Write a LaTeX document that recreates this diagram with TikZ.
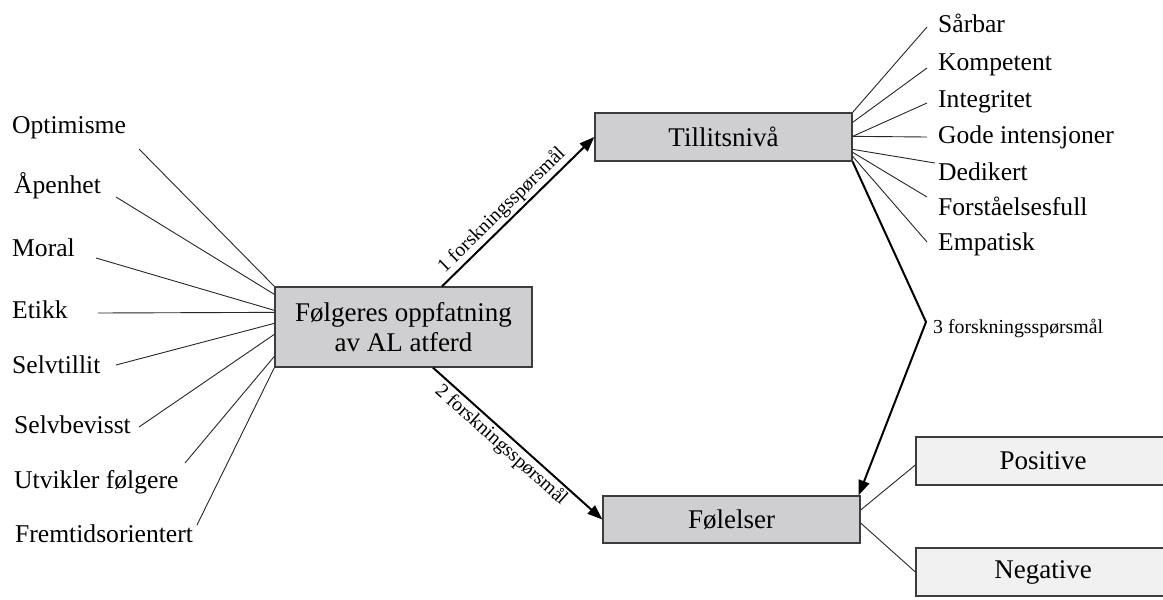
\documentclass[tikz,border=0pt]{standalone}
\usepackage{fontspec}
\setmainfont{Liberation Serif}
\usetikzlibrary{arrows.meta,calc}
\definecolor{boxgray}{RGB}{207,206,208}
\definecolor{boxlight}{RGB}{241,241,241}
\definecolor{edgegray}{RGB}{60,60,60}
\begin{document}
\begin{tikzpicture}[x=1pt,y=-1pt,
  lbl/.style={anchor=base west,inner sep=0pt,font=\fontsize{25.6}{29}\selectfont},
  bigbox/.style={draw=edgegray,line width=1.3pt,fill=boxgray,inner sep=0pt,minimum width=257pt,font=\fontsize{27}{30}\selectfont,align=center},
  outbox/.style={draw=edgegray,line width=1.3pt,fill=boxlight,inner sep=0pt,minimum width=254pt,minimum height=48pt,font=\fontsize{27}{30}\selectfont},
  thin/.style={draw=black!85,line width=0.9pt},
  heavy/.style={draw=black,line width=2pt},
  arr/.style={heavy,-{Triangle[length=15pt,width=11pt]}},
  qlbl/.style={font=\fontsize{19.8}{23}\selectfont,inner sep=2pt}
]
\useasboundingbox (0,0) rectangle (1163,600);

% boxes
\node[bigbox,minimum height=80pt] (m) at (403.5,327) {Følgeres oppfatning\\av AL atferd};
\node[bigbox,minimum height=48pt] (t) at (723.5,137) {Tillitsnivå};
\node[bigbox,minimum height=47pt] (f) at (731.5,519.5) {Følelser};
\node[outbox] (p) at (1043,461) {Positive};
\node[outbox] (n) at (1043,572) {Negative};

% left labels
\node[lbl] (l1) at (12,133) {Optimisme};
\node[lbl] (l2) at (14,193) {Åpenhet};
\node[lbl] (l3) at (12,256) {Moral};
\node[lbl] (l4) at (12,318) {Etikk};
\node[lbl] (l5) at (12,373) {Selvtillit};
\node[lbl] (l6) at (14,433) {Selvbevisst};
\node[lbl] (l7) at (14,488) {Utvikler følgere};
\node[lbl] (l8) at (15,542) {Fremtidsorientert};

\coordinate (c1) at (139,149);
\coordinate (c2) at (116,197);
\coordinate (c3) at (96,258);
\coordinate (c4) at (98,313);
\coordinate (c5) at (116,365);
\coordinate (c6) at (139,427);
\coordinate (c7) at (185,463);
\coordinate (c8) at (197,525);

\draw[thin] (c1) -- (m.north west);
\draw[thin] (c2) -- ([yshift=-8pt]m.north west);
\draw[thin] (c3) -- ([yshift=-24pt]m.north west);
\draw[thin] (c4) -- ([yshift=-26pt]m.north west);
\draw[thin] (c5) -- ([yshift=-37pt]m.north west);
\draw[thin] (c6) -- ([yshift=-48pt]m.north west);
\draw[thin] (c7) -- ([yshift=-70pt]m.north west);
\draw[thin] (c8) -- (m.south west);

% right labels
\node[lbl] (r1) at (938,32) {Sårbar};
\node[lbl] (r2) at (938,70) {Kompetent};
\node[lbl] (r3) at (938,107) {Integritet};
\node[lbl] (r4) at (938,143) {Gode intensjoner};
\node[lbl] (r5) at (938,180) {Dedikert};
\node[lbl] (r6) at (938,215) {Forståelsesfull};
\node[lbl] (r7) at (938,250) {Empatisk};

\coordinate (d1) at (927,27);
\coordinate (d2) at (927,68);
\coordinate (d3) at (927,103);
\coordinate (d4) at (927,137);
\coordinate (d5) at (935,163);
\coordinate (d6) at (927,197);
\coordinate (d7) at (927,242);

\draw[thin] (t.north east) -- (d1);
\draw[thin] ([yshift=-10pt]t.north east) -- (d2);
\draw[thin] ([yshift=-24pt]t.north east) -- (d3);
\draw[thin] ([yshift=-24pt]t.north east) -- (d4);
\draw[thin] ([yshift=-37pt]t.north east) -- (d5);
\draw[thin] ([yshift=-40pt]t.north east) -- (d6);
\draw[thin] ([yshift=-44pt]t.north east) -- (d7);

% arrows
\draw[arr] ([xshift=38.5pt]m.north) -- node[pos=0.45,sloped,above,qlbl] {1 forskningsspørsmål} (t.west);
\draw[arr] ([xshift=29.5pt]m.south) -- node[pos=0.45,sloped,below,qlbl] {2 forskningsspørsmål} (f.west);

\coordinate (bend) at (926,322);
\draw[arr] (t.south east) -- (bend) -- ([xshift=-2pt]f.north east);
\node[qlbl,anchor=west,inner sep=0pt] (q3) at (933,328) {3 forskningsspørsmål};

% feelings
\draw[thin] ([yshift=9.5pt]f.east) -- ([yshift=-4pt]p.west);
\draw[thin] ([yshift=-3.5pt]f.east) -- (n.west);
\end{tikzpicture}
\end{document}
